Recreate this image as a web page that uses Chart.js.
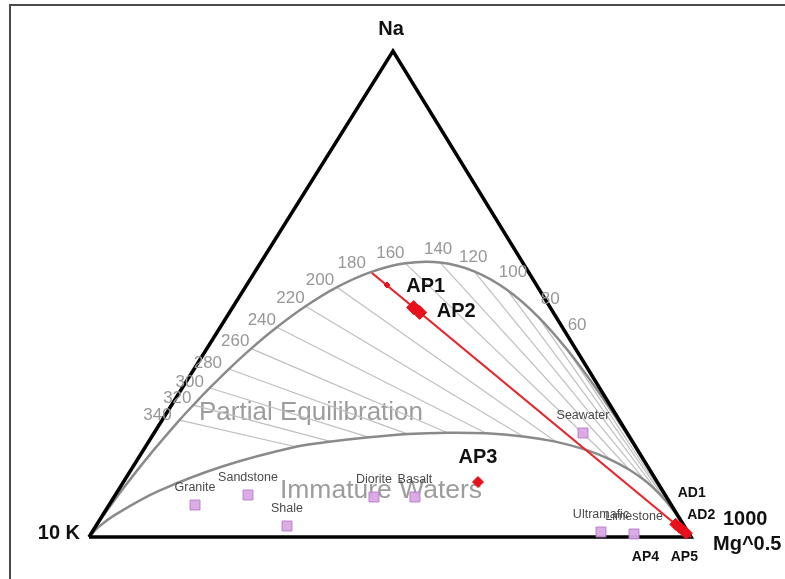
<!DOCTYPE html>
<html>
<head>
<meta charset="utf-8">
<script src="https://cdn.jsdelivr.net/npm/chart.js@4.4.1/dist/chart.umd.min.js"></script>
<style>
  html, body { margin: 0; padding: 0; background: #fff; overflow: hidden; }
  canvas { display: block; }
</style>
</head>
<body>
<canvas id="chart" width="785" height="579"></canvas>
<script>
// Giggenbach Na/1000 - K/100 - Mg^0.5 ternary diagram (fractions of the three components)

// Full equilibrium curve, one composition per temperature (°C)
const curveTemps = [0, 20, 40, 60, 80, 100, 120, 140, 160, 180, 200, 220, 240, 260, 280, 300, 320, 340, 400, 500, 700, 1000];
const fullNa = [0.1558, 0.2273, 0.3056, 0.3831, 0.4531, 0.5089, 0.5467, 0.5647, 0.5631, 0.5449, 0.5140, 0.4747, 0.4315, 0.3877, 0.3456, 0.3066, 0.2715, 0.2404, 0.1685, 0.0998, 0.0455, 0.0215];
const fullK  = [0.0007, 0.0023, 0.0063, 0.0145, 0.0295, 0.0539, 0.0896, 0.1372, 0.1957, 0.2623, 0.3336, 0.4053, 0.4744, 0.5387, 0.5966, 0.6477, 0.6923, 0.7308, 0.8161, 0.8939, 0.9528, 0.9780];
const fullMg = [0.8435, 0.7704, 0.6881, 0.6024, 0.5174, 0.4372, 0.3637, 0.2981, 0.2412, 0.1928, 0.1524, 0.1200, 0.0941, 0.0736, 0.0578, 0.0457, 0.0362, 0.0288, 0.0154, 0.0063, 0.0017, 0.0005];

// Boundary between partial equilibration and immature waters, same temperatures
const partNa = [0.0160, 0.0255, 0.0379, 0.0534, 0.0718, 0.0928, 0.1156, 0.1379, 0.1599, 0.1797, 0.1957, 0.2067, 0.2134, 0.2146, 0.2118, 0.2051, 0.1963, 0.1857, 0.1456, 0.0937, 0.0446, 0.0214];
const partK  = [0.0001, 0.0003, 0.0008, 0.0020, 0.0047, 0.0098, 0.0189, 0.0335, 0.0556, 0.0865, 0.1269, 0.1765, 0.2346, 0.2981, 0.3656, 0.4332, 0.5006, 0.5645, 0.7053, 0.8395, 0.9360, 0.9728];
const partMg = [0.9839, 0.9742, 0.9613, 0.9446, 0.9235, 0.8974, 0.8655, 0.8286, 0.7845, 0.7338, 0.6774, 0.6168, 0.5520, 0.4873, 0.4226, 0.3617, 0.3031, 0.2498, 0.1491, 0.0668, 0.0194, 0.0058];

// Na-K isotherms drawn and labelled (°C)
const isotherms = [60, 80, 100, 120, 140, 160, 180, 200, 220, 240, 260, 280, 300, 320, 340];

// Reference rock / water compositions
const rockNames = ['Granite', 'Sandstone', 'Shale', 'Diorite', 'Basalt', 'Seawater', 'Ultramafic', 'Limestone'];
const rockNa = [0.0658, 0.0864, 0.0226, 0.0823, 0.0823, 0.2140, 0.0103, 0.0062];
const rockK  = [0.7913, 0.6931, 0.6599, 0.4859, 0.4178, 0.0735, 0.1444, 0.0916];
const rockMg = [0.1429, 0.2205, 0.3175, 0.4318, 0.4999, 0.7125, 0.8453, 0.9022];

// Water samples
const sampleNames = ['AP1', 'AP2', 'AP3', 'AD1', 'AD2', 'AP4', 'AP5'];
const sampleNa = [0.472, 0.462, 0.1132, 0.026, 0.020, 0.013, 0.008];
const sampleK  = [0.227, 0.222, 0.2978, 0.0125, 0.0096, 0.0062, 0.0038];
const sampleMg = [0.301, 0.316, 0.5890, 0.9615, 0.9704, 0.9808, 0.9882];

// Na/K line through the AP samples (from full equilibrium to the Mg^0.5 corner) and its marker
const naKLineNa = [0.5432, 0.0];
const naKLineK  = [0.2610, 0.0];
const naKLineMg = [0.1958, 1.0];
const naKMarkNa = [0.5185];
const naKMarkK  = [0.2483];
const naKMarkMg = [0.2332];

// ---- ternary -> plane coordinates (K corner at 0,0; Mg corner at 1,0; Na corner on top) ----
const APEX_X = 0.505;
function tern(na, k, mg) {
  const s = na + k + mg;
  const a = na / s, c = mg / s;
  return { x: c + APEX_X * a, y: a };
}
function ternList(na, k, mg) { return na.map((v, i) => tern(v, k[i], mg[i])); }

const cornerK = tern(0, 1, 0), cornerMg = tern(0, 0, 1), cornerNa = tern(1, 0, 0);
const fullPts = ternList(fullNa, fullK, fullMg);
const partPts = ternList(partNa, partK, partMg);

const datasets = [];
// samples (top)
datasets.push({
  label: 'samples', data: ternList(sampleNa, sampleK, sampleMg),
  pointStyle: 'rectRot', pointRadius: [7, 7, 5.5, 6, 6, 6, 6],
  backgroundColor: '#e8101a', borderColor: '#e8101a', borderWidth: 1, showLine: false, order: 0
});
datasets.push({
  label: 'marker', data: ternList(naKMarkNa, naKMarkK, naKMarkMg),
  pointStyle: 'rectRot', pointRadius: 3, backgroundColor: '#e8101a', borderColor: '#e8101a',
  showLine: false, order: 0
});
datasets.push({
  label: 'rocks', data: ternList(rockNa, rockK, rockMg),
  pointStyle: 'rect', pointRadius: 7, backgroundColor: 'rgba(218,168,228,0.95)',
  borderColor: '#b97fcb', borderWidth: 1, showLine: false, order: 1
});
datasets.push({
  label: 'naK', data: ternList(naKLineNa, naKLineK, naKLineMg),
  showLine: true, borderColor: '#e8262b', borderWidth: 2.2, pointRadius: 0, order: 2
});
datasets.push({
  label: 'triangle', data: [cornerK, cornerMg, cornerNa, cornerK],
  showLine: true, borderColor: '#000', borderWidth: 3.5, pointRadius: 0, order: 3,
  borderJoinStyle: 'miter'
});
datasets.push({
  label: 'full', data: [cornerMg, ...fullPts, cornerK],
  showLine: true, borderColor: '#8a8a8a', borderWidth: 2.5, pointRadius: 0, tension: 0.35, order: 4
});
datasets.push({
  label: 'partial', data: [cornerMg, ...partPts, cornerK],
  showLine: true, borderColor: '#8a8a8a', borderWidth: 2.5, pointRadius: 0, tension: 0.35, order: 4
});
isotherms.forEach(t => {
  const i = curveTemps.indexOf(t);
  datasets.push({
    label: 'iso' + t, data: [fullPts[i], partPts[i]],
    showLine: true, borderColor: '#bfbfbf', borderWidth: 1.2, pointRadius: 0, order: 5
  });
});

// label offsets in pixels relative to their anchor
const isoLabelOffset = {
  60: [9, -26], 80: [12, -17], 100: [6, -17], 120: [-1, -14], 140: [-2, -13], 160: [-15, -10],
  180: [-19, -9], 200: [-17, -7], 220: [-15, -8], 240: [-15, -7], 260: [-16, -7], 280: [-21, -6],
  300: [-20, -6], 320: [-16, -7], 340: [-22, -5]
};
const sampleLabel = {
  AP1: { dx: 12, dy: -21, font: 'bold 20px "Liberation Sans", Arial, sans-serif', align: 'center' },
  AP2: { dx: 17, dy: -1, font: 'bold 20px "Liberation Sans", Arial, sans-serif', align: 'left' },
  AP3: { dx: 0, dy: -25, font: 'bold 20px "Liberation Sans", Arial, sans-serif', align: 'center' },
  AD1: { dx: 16, dy: -31, font: 'bold 14px "Liberation Sans", Arial, sans-serif', align: 'center' },
  AD2: { dx: 22, dy: -12, font: 'bold 14px "Liberation Sans", Arial, sans-serif', align: 'center' },
  AP4: { dx: -38, dy: 26, font: 'bold 14px "Liberation Sans", Arial, sans-serif', align: 'center' },
  AP5: { dx: -2, dy: 24, font: 'bold 14px "Liberation Sans", Arial, sans-serif', align: 'center' }
};

const decorations = {
  id: 'decorations',
  beforeDatasetsDraw(chart) {
    const ctx = chart.ctx, xs = chart.scales.x, ys = chart.scales.y;
    ctx.save();
    // frame
    ctx.strokeStyle = '#4a4a4a';
    ctx.lineWidth = 2;
    ctx.beginPath();
    ctx.moveTo(10, 579); ctx.lineTo(10, 5); ctx.lineTo(785, 5);
    ctx.stroke();
    // field names
    ctx.fillStyle = '#9c9c9c';
    ctx.textAlign = 'center';
    ctx.textBaseline = 'middle';
    ctx.font = '26px "Liberation Sans", Arial, sans-serif';
    const p1 = tern(0.255, 0.505, 0.240);
    ctx.fillText('Partial Equilibration', xs.getPixelForValue(p1.x), ys.getPixelForValue(p1.y));
    ctx.font = '26.5px "Liberation Sans", Arial, sans-serif';
    const p2 = tern(0.0947, 0.4681, 0.4372);
    ctx.fillText('Immature Waters', xs.getPixelForValue(p2.x), ys.getPixelForValue(p2.y));
    ctx.restore();
  },
  afterDatasetsDraw(chart) {
    const ctx = chart.ctx, xs = chart.scales.x, ys = chart.scales.y;
    const px = p => [xs.getPixelForValue(p.x), ys.getPixelForValue(p.y)];
    ctx.save();
    ctx.textBaseline = 'middle';

    // isotherm temperatures
    ctx.fillStyle = '#979797';
    ctx.textAlign = 'center';
    ctx.font = '17px "Liberation Sans", Arial, sans-serif';
    isotherms.forEach(t => {
      const [x, y] = px(fullPts[curveTemps.indexOf(t)]);
      const o = isoLabelOffset[t];
      ctx.fillText(String(t), x + o[0], y + o[1]);
    });

    // rock names
    ctx.fillStyle = '#4a4a4a';
    ctx.font = '12.5px "Liberation Sans", Arial, sans-serif';
    datasets[2].data.forEach((p, i) => {
      const [x, y] = px(p);
      ctx.fillText(rockNames[i], x, y - 17);
    });

    // sample names
    ctx.fillStyle = '#111';
    datasets[0].data.forEach((p, i) => {
      const s = sampleLabel[sampleNames[i]];
      const [x, y] = px(p);
      ctx.font = s.font;
      ctx.textAlign = s.align;
      ctx.fillText(sampleNames[i], x + s.dx, y + s.dy);
    });

    // corner names
    ctx.font = 'bold 20px "Liberation Sans", Arial, sans-serif';
    let [x, y] = px(cornerNa);
    ctx.textAlign = 'center';
    ctx.fillText('Na', x - 2, y - 22);
    [x, y] = px(cornerK);
    ctx.textAlign = 'right';
    ctx.fillText('10 K', x - 9, y - 4);
    [x, y] = px(cornerMg);
    ctx.textAlign = 'left';
    ctx.fillText('1000', x + 32, y - 18);
    ctx.fillText('Mg^0.5', x + 22, y + 7);
    ctx.restore();
  }
};

new Chart(document.getElementById('chart'), {
  type: 'scatter',
  data: { datasets },
  options: {
    responsive: false,
    animation: false,
    devicePixelRatio: 1,
    layout: { padding: 0, autoPadding: false },
    plugins: { legend: { display: false }, tooltip: { enabled: false } },
    scales: {
      x: { type: 'linear', display: false, min: -89 / 602, max: (785 - 89) / 602 },
      y: { type: 'linear', display: false, min: -(579 - 537) / 486, max: 1 + 51 / 486 }
    }
  },
  plugins: [decorations]
});
</script>
</body>
</html>
